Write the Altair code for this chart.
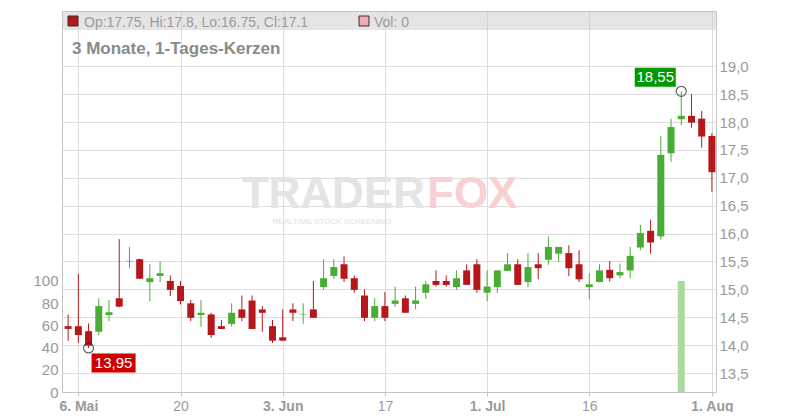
import altair as alt
import pandas as pd

# ---------------- data ----------------
opens = [14.34, 14.34, 14.25, 14.24, 14.54, 14.84, 15.50, 15.54, 15.13, 15.24,
         15.15, 15.06, 14.75, 14.54, 14.55, 14.34, 14.38, 14.64, 14.80, 14.64,
         14.34, 14.14, 14.64, 14.55, 14.64, 15.04, 15.24, 15.45, 15.20, 14.89,
         14.49, 14.70, 14.74, 14.84, 14.74, 14.94, 15.15, 15.15, 15.04, 15.34,
         15.45, 14.94, 15.04, 15.33, 15.45, 15.13, 15.45, 15.53, 15.64, 15.65,
         15.45, 15.04, 15.13, 15.35, 15.25, 15.34, 15.75, 16.05, 15.95, 17.44,
         18.05, 18.11, 18.06, 17.75]
highs = [14.55, 15.28, 14.39, 14.84, 14.81, 15.90, 15.76, 15.55, 15.45, 15.50,
         15.25, 15.15, 14.81, 14.81, 14.58, 14.45, 14.75, 14.89, 14.89, 14.70,
         14.45, 14.64, 14.75, 14.75, 15.15, 15.54, 15.54, 15.59, 15.25, 15.00,
         14.84, 14.95, 15.05, 14.89, 15.05, 15.15, 15.34, 15.25, 15.34, 15.45,
         15.54, 15.34, 15.34, 15.65, 15.54, 15.65, 15.65, 15.95, 15.76, 15.79,
         15.70, 15.29, 15.45, 15.51, 15.46, 15.76, 16.16, 16.25, 17.75, 18.06,
         18.55, 18.50, 18.20, 17.80]
lows = [14.08, 14.04, 13.95, 14.18, 14.43, 14.68, 15.38, 15.19, 14.79, 15.13,
        14.88, 14.73, 14.43, 14.33, 14.13, 14.29, 14.33, 14.43, 14.29, 14.24,
        14.04, 14.08, 14.43, 14.38, 14.49, 14.99, 15.19, 15.13, 14.94, 14.43,
        14.43, 14.43, 14.69, 14.58, 14.64, 14.83, 15.05, 15.05, 14.99, 15.08,
        14.94, 14.79, 14.94, 15.33, 15.08, 15.04, 15.18, 15.44, 15.49, 15.24,
        15.13, 14.82, 15.13, 15.14, 15.20, 15.20, 15.70, 15.64, 15.89, 17.29,
        17.94, 17.90, 17.54, 16.75]
closes = [14.29, 14.18, 13.99, 14.70, 14.59, 14.69, 15.51, 15.19, 15.20, 15.29,
          14.99, 14.79, 14.49, 14.58, 14.18, 14.29, 14.58, 14.49, 14.29, 14.58,
          14.08, 14.08, 14.58, 14.56, 14.49, 15.20, 15.40, 15.19, 14.99, 14.49,
          14.70, 14.49, 14.80, 14.58, 14.80, 15.09, 15.08, 15.08, 15.20, 15.08,
          14.99, 15.05, 15.34, 15.45, 15.08, 15.40, 15.38, 15.76, 15.76, 15.38,
          15.18, 15.09, 15.34, 15.20, 15.31, 15.60, 16.01, 15.84, 17.41, 17.91,
          18.11, 17.99, 17.74, 17.10]
volumes = [0, 0, 0, 0, 0, 0, 0, 0, 0, 0,
           0, 0, 0, 0, 0, 0, 0, 0, 0, 0,
           0, 0, 0, 0, 0, 0, 0, 0, 0, 0,
           0, 0, 0, 0, 0, 0, 0, 0, 0, 0,
           0, 0, 0, 0, 0, 0, 0, 0, 0, 0,
           0, 0, 0, 0, 0, 0, 0, 0, 0, 0,
           100, 0, 0, 0]

tick_idx = [1, 11, 21, 31, 41, 51, 63]
tick_labels = ["6. Mai", "20", "3. Jun", "17", "1. Jul", "16", "1. Aug"]
bold_ticks = [1, 21, 41, 63]
price_ticks = [13.5, 14.0, 14.5, 15.0, 15.5, 16.0, 16.5, 17.0, 17.5, 18.0, 18.5, 19.0]
vol_ticks = [0, 20, 40, 60, 80, 100]

header_text = "Op:17.75, Hi:17.8, Lo:16.75, Cl:17.1"
vol_text = "Vol: 0"
title_text = "3 Monate, 1-Tages-Kerzen"

# ---------------- frames ----------------
n = len(opens)
df = pd.DataFrame({"i": list(range(n)), "open": opens, "high": highs,
                   "low": lows, "close": closes, "vol": volumes})
df["dir"] = ["up" if c >= o else "down" for o, c in zip(opens, closes)]

imin = min(range(n), key=lambda k: lows[k])
imax = max(range(n), key=lambda k: highs[k])
ann_low = pd.DataFrame({"i": [imin], "low": [lows[imin]],
                        "lab": [f"{lows[imin]:.2f}".replace(".", ",")]})
ann_high = pd.DataFrame({"i": [imax], "low": [highs[imax]],
                         "lab": [f"{highs[imax]:.2f}".replace(".", ",")]})
one = pd.DataFrame({"a": [0]})

# ---------------- style ----------------
W, H = 654, 381
RED = "#b5171b"
GREEN = "#49ad35"
GRID = "#dddddd"
AX = "#c4c4c4"
LAB = "#9a9a9a"
FONT = "Liberation Sans"

label_expr = ""
for v, t in zip(tick_idx, tick_labels):
    label_expr += f"datum.value == {v} ? '{t}' : "
label_expr += "''"
bold_test = " || ".join(f"datum.value == {v}" for v in bold_ticks)

xscale = alt.Scale(domain=[-0.6, 63.4], nice=False, zero=False, padding=0)
x_axis = alt.Axis(values=tick_idx, labelExpr=label_expr, grid=True, gridColor=GRID,
                  domainColor=AX, tickColor=AX, tickSize=4, labelColor=LAB,
                  labelFontSize=14, labelFont=FONT, labelPadding=3, title=None,
                  labelOverlap=False, labelFlush=False,
                  labelFontWeight={"condition": {"test": bold_test, "value": "bold"},
                                   "value": "normal"})
X = alt.X("i:Q", scale=xscale, axis=x_axis)

pscale = alt.Scale(domain=[13.16, 19.99], nice=False, zero=False, padding=0)
p_axis = alt.Axis(orient="right", values=price_ticks,
                  labelExpr="replace(format(datum.value, '.1f'), '.', ',')",
                  grid=True, gridColor=GRID, ticks=False, domainColor=AX,
                  labelColor=LAB, labelFontSize=15, labelFont=FONT, labelPadding=3,
                  labelOverlap=False, labelFlush=False, title=None)
YP = alt.Y("low:Q", scale=pscale, axis=p_axis)

color = alt.Color("dir:N", scale=alt.Scale(domain=["up", "down"], range=[GREEN, RED]),
                  legend=None)

# volume
vol_layer = alt.Chart(df).mark_bar(width=7, color="#a9dba1").encode(
    x=X,
    y=alt.Y("vol:Q", scale=alt.Scale(domain=[0, 343], nice=False, padding=0),
            axis=alt.Axis(orient="left", values=vol_ticks, grid=False, ticks=False,
                          domainColor=AX, labelColor=LAB, labelFontSize=15,
                          labelFont=FONT, labelPadding=4, title=None,
                          labelOverlap=False, labelFlush=False)),
)

wicks = alt.Chart(df).mark_rule(strokeWidth=1).encode(
    x=X, y=YP, y2="high:Q", color=color)
bodies = alt.Chart(df).transform_calculate(low="datum.open").mark_bar(width=7).encode(
    x=X, y=YP, y2="close:Q", color=color)

low_circle = alt.Chart(ann_low).mark_point(shape="circle", size=100, color="#222",
                                           strokeWidth=1.2, filled=False).encode(x=X, y=YP)
low_box = alt.Chart(ann_low).mark_rect(width=44, height=19, xOffset=25, yOffset=15,
                                       color="#cc0000").encode(x=X, y=YP)
low_txt = alt.Chart(ann_low).mark_text(color="white", fontSize=15, font=FONT,
                                       dx=25, dy=15, baseline="middle").encode(
    x=X, y=YP, text="lab:N")

high_circle = alt.Chart(ann_high).mark_point(shape="circle", size=100, color="#222",
                                             strokeWidth=1.2, filled=False).encode(x=X, y=YP)
high_box = alt.Chart(ann_high).mark_rect(width=41, height=19, xOffset=-26, yOffset=-14,
                                         color="#009900").encode(x=X, y=YP)
high_txt = alt.Chart(ann_high).mark_text(color="white", fontSize=15, font=FONT,
                                         dx=-26, dy=-14, baseline="middle").encode(
    x=X, y=YP, text="lab:N")

price_layer = alt.layer(wicks, bodies, low_circle, low_box, low_txt,
                        high_circle, high_box, high_txt)

# decorations
band = alt.Chart(one).mark_rect(color="#cccccc", opacity=0.5).encode(
    x=alt.value(0), x2=alt.value(W), y=alt.value(0.5), y2=alt.value(19))
band_line = alt.Chart(one).mark_rule(color="#c4c4c4", strokeWidth=1).encode(
    x=alt.value(0), x2=alt.value(W), y=alt.value(0.5))
sq_red = alt.Chart(one).mark_rect(color=RED, stroke="#333333", strokeWidth=1).encode(
    x=alt.value(6), x2=alt.value(16), y=alt.value(5), y2=alt.value(15))
sq_pink = alt.Chart(one).mark_rect(color="#f2a9b2", stroke="#333333", strokeWidth=1).encode(
    x=alt.value(297), x2=alt.value(307), y=alt.value(5), y2=alt.value(15))
hdr = alt.Chart(one).mark_text(align="left", baseline="alphabetic", fontSize=14,
                               font=FONT, color="#9a9a9a").encode(
    x=alt.value(22), y=alt.value(15.5), text=alt.value(header_text))
hdr_vol = alt.Chart(one).mark_text(align="left", baseline="alphabetic", fontSize=14,
                                   font=FONT, color="#9a9a9a").encode(
    x=alt.value(312), y=alt.value(15.5), text=alt.value(vol_text))
title = alt.Chart(one).mark_text(align="left", baseline="alphabetic", fontSize=17,
                                 fontWeight="bold", font=FONT, color="#8a8a8a").encode(
    x=alt.value(10), y=alt.value(43), text=alt.value(title_text))
wm1 = alt.Chart(one).mark_text(align="right", baseline="alphabetic", fontSize=44,
                               fontWeight="bold", font=FONT, color="#e4e4e4").encode(
    x=alt.value(363), y=alt.value(197), text=alt.value("TRADER"))
wm2 = alt.Chart(one).mark_text(align="left", baseline="alphabetic", fontSize=44,
                               fontWeight="bold", font=FONT, color="#f8d2d2").encode(
    x=alt.value(365), y=alt.value(197), text=alt.value("FOX"))
wm3 = alt.Chart(one).mark_text(align="center", baseline="alphabetic", fontSize=8,
                               font=FONT, color="#dedede").encode(
    x=alt.value(270), y=alt.value(213), text=alt.value("REALTIME  STOCK  SCREENING"))

chart = alt.layer(
    band, band_line, wm1, wm2, wm3, vol_layer, price_layer,
    sq_red, sq_pink, hdr, hdr_vol, title,
).resolve_scale(y="independent").properties(
    width=W, height=H,
    autosize=alt.AutoSizeParams(type="none"),
    padding={"left": 54, "top": 3, "right": 76, "bottom": 20},
).configure_view(stroke=None).configure(font=FONT)

chart.save("out.html", embed_options={"renderer": "svg", "actions": False})
